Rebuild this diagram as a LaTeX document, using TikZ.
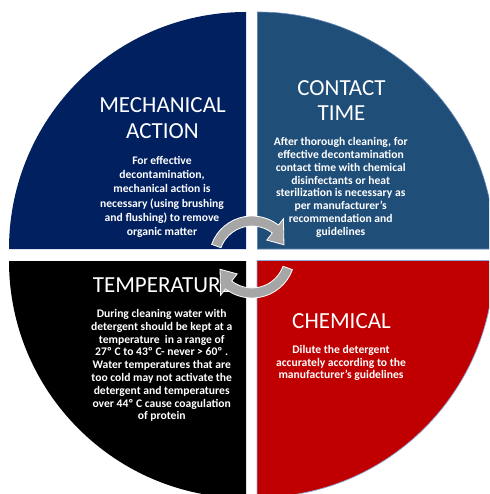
\documentclass[tikz,border=0pt]{standalone}
\usepackage{fontspec}
\setmainfont{Carlito}
\definecolor{navyq}{RGB}{0,32,96}
\definecolor{blueq}{RGB}{31,78,121}
\definecolor{redq}{RGB}{192,0,0}
\definecolor{arrowgray}{RGB}{166,166,166}
\definecolor{edgeblue}{RGB}{143,170,220}
\begin{document}
\begin{tikzpicture}[x=1pt,y=-1pt,
  head/.style={text=white,font=\fontsize{23}{25.7}\selectfont,align=center,inner sep=0pt},
  bodym/.style={text=white,font=\bfseries\fontsize{11.6}{14.2}\selectfont,align=center,inner sep=0pt},
  body/.style={text=white,font=\bfseries\fontsize{11.6}{12.8}\selectfont,align=center,inner sep=0pt},
  cyc/.style={fill=arrowgray,draw=white,line width=0.8pt}]
\useasboundingbox (0,0) rectangle (489,494);
\fill[white] (0,0) rectangle (489,494);
\begin{scope}
\clip (0,0) rectangle (489,494);
\coordinate (c1) at (246,249);
\coordinate (c2) at (257.5,249);
\coordinate (c3) at (246,261);
\coordinate (c4) at (257,260.5);
\fill[navyq] (c1) -- ++(-237,0) arc[start angle=180,end angle=270,radius=237] -- cycle;
\filldraw[fill=blueq,draw=edgeblue!60!blueq,line width=0.6pt] (c2) -- ++(0,-237) arc[start angle=270,end angle=360,radius=237] -- cycle;
\fill[black] (c3) -- ++(-237,0) arc[start angle=180,end angle=90,radius=237] -- cycle;
\filldraw[fill=redq,draw=edgeblue,line width=0.7pt] (c4) -- ++(237,0) arc[start angle=0,end angle=90,radius=237] -- cycle;
\end{scope}
% headings
\node[head] (mechhead) at (162.5,117.8) {MECHANICAL\\ACTION};
\node[head] (conthead) at (341.5,100.5) {CONTACT\\TIME};
\node[head,anchor=west] (temphead) at (92.7,285) {TEMPERATURE};
\node[head] (chemhead) at (341.5,321) {CHEMICAL};
% bodies
\node[bodym] (mechbody) at (162,197) {For effective\\decontamination,\\mechanical action is\\necessary (using brushing\\and flushing) to remove\\organic matter};
\node[body] (contbody) at (340.7,187.5) {After thorough cleaning, for\\effective decontamination\\contact time with chemical\\disinfectants or heat\\sterilization is necessary as\\per manufacturer’s\\recommendation and\\guidelines};
\node[body] (tempbody) at (161.7,365.5) {During cleaning water with\\detergent should be kept at a\\temperature\ \ in a range of\\27º C to 43º C- never > 60º .\\Water temperatures that are\\too cold may not activate the\\detergent and temperatures\\over 44º C cause coagulation\\of protein};
\node[body] (chembody) at (341,363) {Dilute the detergent\\accurately according to the\\manufacturer’s guidelines};
% circular arrows
\begin{scope}[shift={(252,259)}]
\filldraw[cyc] (200:43) arc[start angle=200,end angle=308,radius=43] -- (308:51) -- (336:35) -- (308:24) -- (308:33) arc[start angle=308,end angle=200,radius=33] -- cycle;
\end{scope}
\begin{scope}[shift={(252,255)},rotate=180]
\filldraw[cyc] (200:43) arc[start angle=200,end angle=308,radius=43] -- (308:51) -- (336:35) -- (308:24) -- (308:33) arc[start angle=308,end angle=200,radius=33] -- cycle;
\end{scope}
\end{tikzpicture}
\end{document}
